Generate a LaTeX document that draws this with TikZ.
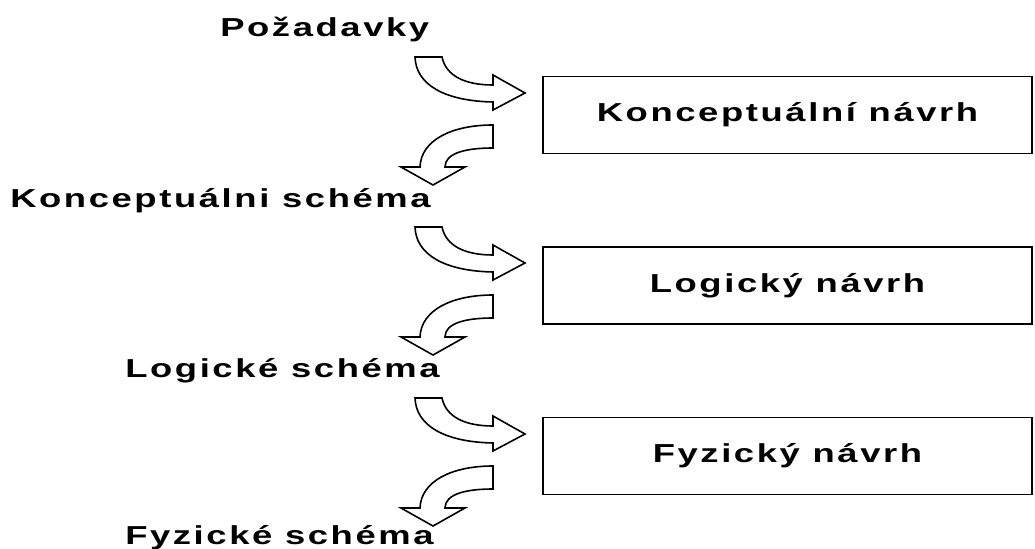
\documentclass[tikz,border=0pt]{standalone}
\usepackage{fontspec}
\setmainfont{Liberation Sans}[FakeStretch=1.4,LetterSpace=10]
\usepackage{tikz}

\tikzset{
  navrh/.style={draw, line width=1.2pt, minimum width=366.75pt, minimum height=57.75pt, inner sep=0pt,
    font=\fontsize{19.5}{22}\selectfont\bfseries},
  schema/.style={anchor=base west, inner sep=0pt, font=\fontsize{19.5}{22}\selectfont\bfseries},
  sipka/.style={draw, line width=1.2pt, line join=miter, fill=white}
}

\begin{document}
\begin{tikzpicture}[x=0.75pt,y=0.75pt,yscale=-1,xscale=1]
\useasboundingbox (0,0) rectangle (1035,549);

% Text Node
\node [schema] (poz) at (220,37) {Požadavky};
\node [schema] (ksch) at (10,208) {Konceptuálni schéma};
\node [schema] (lsch) at (125,377) {Logické schéma};
\node [schema] (fsch) at (125,544) {Fyzické schéma};

% Boxes
\node [navrh] (knav) at (787.5,115) {Konceptuální návrh};
\node [navrh] (lnav) at (787.5,285.5) {Logický návrh};
\node [navrh] (fnav) at (787.5,456) {Fyzický návrh};

%Shape: Curved Right Arrow
\draw [sipka] (415,57) -- (442,57) .. controls (446,76) and (465,85) .. (493,85) -- (493,75) -- (525,93) -- (493,110) -- (493,102) .. controls (445,101) and (416,85) .. (415,57) -- cycle ;
%Shape: Curved Down Arrow
\draw [sipka] (493,125) -- (493,148) .. controls (466,148) and (445,153) .. (445,167) -- (465,167) -- (433,185) -- (401,167) -- (420,167) .. controls (421,140) and (452,125) .. (493,125) -- cycle ;

%Shape: Curved Right Arrow
\draw [sipka] (415,227) -- (442,227) .. controls (446,246) and (465,255) .. (493,255) -- (493,245) -- (525,263) -- (493,280) -- (493,272) .. controls (445,271) and (416,255) .. (415,227) -- cycle ;
%Shape: Curved Down Arrow
\draw [sipka] (493,295) -- (493,318) .. controls (466,318) and (445,323) .. (445,337) -- (465,337) -- (433,355) -- (401,337) -- (420,337) .. controls (421,310) and (452,295) .. (493,295) -- cycle ;

%Shape: Curved Right Arrow
\draw [sipka] (415,398) -- (442,398) .. controls (446,417) and (465,426) .. (493,426) -- (493,416) -- (525,434) -- (493,451) -- (493,443) .. controls (445,442) and (416,426) .. (415,398) -- cycle ;
%Shape: Curved Down Arrow
\draw [sipka] (493,466) -- (493,489) .. controls (466,489) and (445,494) .. (445,508) -- (465,508) -- (433,526) -- (401,508) -- (420,508) .. controls (421,481) and (452,466) .. (493,466) -- cycle ;

\end{tikzpicture}
\end{document}
